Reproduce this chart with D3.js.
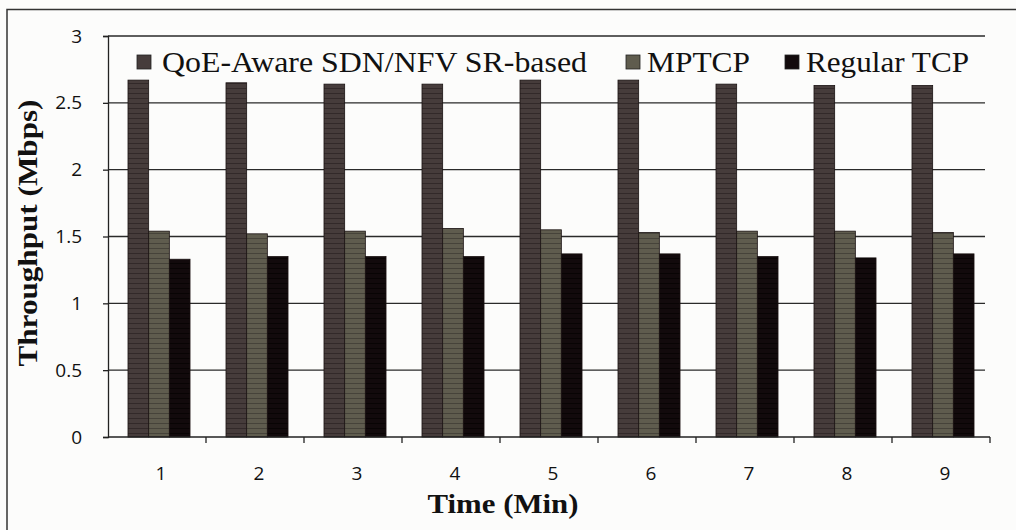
<!DOCTYPE html>
<html>
<head>
<meta charset="utf-8">
<script src="https://cdn.jsdelivr.net/npm/d3@7"></script>
<style>
  body { margin: 0; background: #fff; }
  svg { display: block; }
</style>
</head>
<body>
<div id="chart"></div>
<script>
// chart data
const times = ["1", "2", "3", "4", "5", "6", "7", "8", "9"];
const seriesNames = ["QoE-Aware SDN/NFV SR-based", "MPTCP", "Regular TCP"];
const qoeAware = [2.67, 2.65, 2.64, 2.64, 2.67, 2.67, 2.64, 2.63, 2.63];
const mptcp = [1.54, 1.52, 1.54, 1.56, 1.55, 1.53, 1.54, 1.54, 1.53];
const regularTcp = [1.33, 1.35, 1.35, 1.35, 1.37, 1.37, 1.35, 1.34, 1.37];
const yTicks = [0, 0.5, 1, 1.5, 2, 2.5, 3];

const width = 1016, height = 530;
const margin = { left: 108, right: 26, top: 36, bottom: 93 };

const svg = d3.select("#chart").append("svg")
    .attr("width", width)
    .attr("height", height);

// scanned-paper background + outer frame
svg.append("rect").attr("width", width).attr("height", height).attr("fill", "#fcfcfb");
svg.append("path")
    .attr("d", "M7,530 L7,9.5 L1016,9.5")
    .attr("fill", "none").attr("stroke", "#333").attr("stroke-width", 1.5);

// stripe patterns to mimic the textured bars
const fills = ["#463c3b", "#5f5c4e", "#120a0c"];
const stripes = ["#322929", "#46433a", "#080404"];
const defs = svg.append("defs");
fills.forEach((c, i) => {
  const p = defs.append("pattern")
      .attr("id", "pat" + i)
      .attr("patternUnits", "userSpaceOnUse")
      .attr("width", 7).attr("height", 5);
  p.append("rect").attr("width", 7).attr("height", 5).attr("fill", c);
  p.append("rect").attr("y", 3).attr("width", 7).attr("height", 1).attr("fill", stripes[i]);
});

const x0 = d3.scaleBand()
    .domain(times)
    .range([margin.left, width - margin.right])
    .padding(0);

const x1 = d3.scaleBand()
    .domain([0, 1, 2])
    .range([x0.bandwidth() * 0.204, x0.bandwidth() * 0.837])
    .padding(0);

const y = d3.scaleLinear()
    .domain([0, 3])
    .range([height - margin.bottom, margin.top]);

// gridlines
svg.append("g")
    .selectAll("line")
    .data(yTicks.slice(1))
    .join("line")
    .attr("x1", margin.left)
    .attr("x2", width - margin.right - 5)
    .attr("y1", d => y(d))
    .attr("y2", d => y(d))
    .attr("stroke", "#2a2a2a")
    .attr("stroke-width", 1.3);

// bars
const allSeries = [qoeAware, mptcp, regularTcp];
const groups = svg.append("g")
    .selectAll("g")
    .data(times)
    .join("g")
    .attr("transform", d => `translate(${x0(d)},0)`);

groups.selectAll("rect")
    .data((d, i) => allSeries.map((s, k) => ({ k: k, v: s[i] })))
    .join("rect")
    .attr("x", d => x1(d.k))
    .attr("width", x1.bandwidth())
    .attr("y", d => y(d.v))
    .attr("height", d => y(0) - y(d.v))
    .attr("fill", d => `url(#pat${d.k})`)
    .attr("stroke", "#1a1212")
    .attr("stroke-width", 0.8);

// y axis
const yAxis = svg.append("g")
    .attr("transform", `translate(${margin.left},0)`)
    .call(d3.axisLeft(y).tickValues(yTicks).tickSize(5).tickPadding(21)
      .tickFormat(d => d));
yAxis.select(".domain").attr("stroke", "#222").attr("stroke-width", 1.3);
yAxis.selectAll(".tick line").attr("stroke", "#222").attr("stroke-width", 1.3);
yAxis.selectAll("text")
    .attr("font-family", "'Open Sans', sans-serif")
    .attr("font-size", 19)
    .attr("fill", "#111");

// x axis: ticks at category boundaries
const xAxisG = svg.append("g")
    .attr("transform", `translate(0,${y(0)})`);
xAxisG.append("line")
    .attr("x1", margin.left).attr("x2", width - margin.right)
    .attr("stroke", "#222").attr("stroke-width", 1.3);
xAxisG.selectAll(".tk")
    .data(times)
    .join("line")
    .attr("class", "tk")
    .attr("x1", d => x0(d) + x0.bandwidth())
    .attr("x2", d => x0(d) + x0.bandwidth())
    .attr("y1", 0).attr("y2", 6)
    .attr("stroke", "#222").attr("stroke-width", 1.3);
xAxisG.selectAll("text")
    .data(times)
    .join("text")
    .attr("x", d => x0(d) + x0.bandwidth() / 2 + 4)
    .attr("y", 43)
    .attr("text-anchor", "middle")
    .attr("font-family", "'Open Sans', sans-serif")
    .attr("font-size", 19)
    .attr("fill", "#111")
    .text(d => d);

// axis titles
svg.append("text")
    .attr("x", 503)
    .attr("y", 513)
    .attr("text-anchor", "middle")
    .attr("font-family", "'Liberation Serif', serif")
    .attr("font-weight", "bold")
    .attr("font-size", 28)
    .attr("textLength", 151)
    .attr("lengthAdjust", "spacingAndGlyphs")
    .attr("fill", "#111")
    .text("Time  (Min)");

svg.append("text")
    .attr("transform", "translate(37,233) rotate(-90)")
    .attr("text-anchor", "middle")
    .attr("font-family", "'Liberation Serif', serif")
    .attr("font-weight", "bold")
    .attr("font-size", 27)
    .attr("textLength", 267)
    .attr("lengthAdjust", "spacingAndGlyphs")
    .attr("fill", "#111")
    .text("Throughput  (Mbps)");

// legend
const legendX = [137, 626, 785];
const legendW = [425, 103, 163];
const legend = svg.append("g")
    .selectAll("g")
    .data(seriesNames)
    .join("g")
    .attr("transform", (d, i) => `translate(${legendX[i]},0)`);
legend.append("rect")
    .attr("x", 0).attr("y", 55)
    .attr("width", 14).attr("height", 14)
    .attr("fill", (d, i) => fills[i])
    .attr("stroke", "#222").attr("stroke-width", 0.8);
legend.append("text")
    .attr("x", (d, i) => i === 0 ? 25 : 21)
    .attr("y", 72)
    .attr("font-family", "'Liberation Serif', serif")
    .attr("font-size", 29)
    .attr("textLength", (d, i) => legendW[i])
    .attr("lengthAdjust", "spacingAndGlyphs")
    .attr("fill", "#111")
    .text(d => d);
</script>
</body>
</html>
